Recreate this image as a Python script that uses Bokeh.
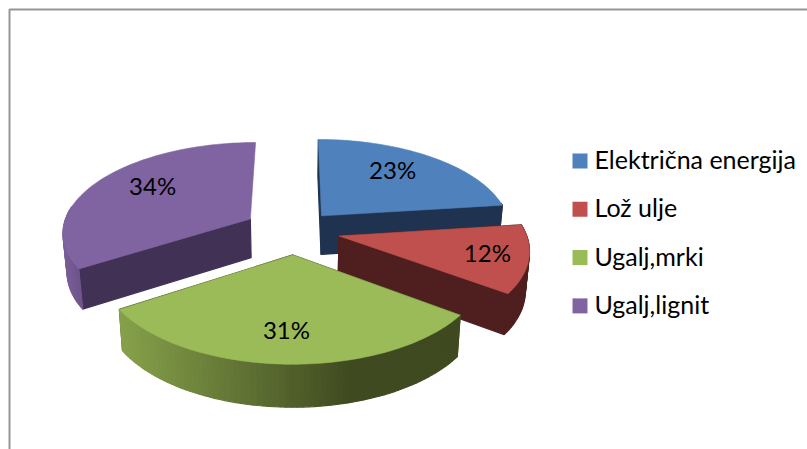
import math
from bokeh.plotting import figure
from bokeh.core.properties import value
from bokeh.embed import file_html
from bokeh.resources import INLINE

categories = ["Električna energija", "Lož ulje", "Ugalj,mrki", "Ugalj,lignit"]
shares = [23, 12, 31, 34]
percent_labels = ["23%", "12%", "31%", "34%"]

top_colors = ["#4f81bd", "#c0504d", "#9bbb59", "#8064a2"]
wall_colors = ["#1f3350", "#4f1f1f", "#3f4a20", "#413155"]
label_radius = [0.714, 0.77, 0.688, 0.693]
label_turn = [-5.0, -1.1, 0.6, 6.6]
explode = [0.22, 0.24, 0.26, 0.27]
radius = [1.0, 0.98, 0.965, 0.99]

CX, CY = 294.0, 230.0
AX, AY, PERSP = 190.0, 90.7, 0.138
DEPTH, SHRINK_X, GROW_Y = 39.0, 0.982, 1.03
FONT = "Lato"


def project(px, py):
    w = 1 + PERSP * py
    return CX + AX * px / w, CY - AY * py / w


def drop(sx, sy):
    return CX + (sx - CX) * SHRINK_X, CY + (sy - CY) * GROW_Y + DEPTH


def hex_rgb(c):
    return tuple(int(c[i:i + 2], 16) for i in (1, 3, 5))


def mix(a, b, t):
    t = max(0, min(1, t))
    ra, rb = hex_rgb(a), hex_rgb(b)
    return "#%02x%02x%02x" % tuple(round(ra[i] + (rb[i] - ra[i]) * t) for i in range(3))


def arc_color(idx, sx):
    if idx == 2:
        if sx < 350:
            return mix("#88a34b", "#3f4a20", (sx - 115) / 235)
        return "#3f4a20"
    if idx == 3:
        return mix("#7a5f98", "#644a80", (sx - 63) / 30)
    return wall_colors[idx]


p = figure(width=807, height=449, x_range=(0, 807), y_range=(449, 0),
           output_backend="svg", toolbar_location=None, min_border=0,
           outline_line_color=None, background_fill_color="white")
p.axis.visible = False
p.grid.visible = False

# chart frame
p.line([9, 9, 807], [449, 9, 9], line_color="#969696", line_width=2)

total = sum(shares)
start = 0.0
slices = []
for i, s in enumerate(shares):
    sweep = 360.0 * s / total
    slices.append((i, start, start + sweep))
    start += sweep

# back to front: blue, purple, red, green
for i in (0, 3, 1, 2):
    _, a0, a1 = slices[i]
    mid_deg = (a0 + a1) / 2
    mid = math.radians(mid_deg)
    ox, oy = explode[i] * math.sin(mid), explode[i] * math.cos(mid)
    n = max(8, int((a1 - a0) / 1.5))
    rim = []
    angles = []
    for k in range(n + 1):
        a = math.radians(a0 + (a1 - a0) * k / n)
        angles.append(a)
        rim.append((ox + radius[i] * math.sin(a), oy + radius[i] * math.cos(a)))
    apex = (ox, oy)

    edges = [(apex, rim[0], "flat")]
    # only the part of the rim that faces the viewer gets an outer wall
    edges += [(rim[k], rim[k + 1], "arc") for k in range(n)
              if math.cos((angles[k] + angles[k + 1]) / 2) < 0.15]
    if i != 3:
        edges.append((rim[-1], apex, "flat"))
    walls = []
    for a_pt, b_pt, kind in edges:
        ax_, ay_ = project(*a_pt)
        bx_, by_ = project(*b_pt)
        ax2, ay2 = drop(ax_, ay_)
        bx2, by2 = drop(bx_, by_)
        mean_y = (a_pt[1] + b_pt[1]) / 2
        col = wall_colors[i] if kind == "flat" else arc_color(i, (ax_ + bx_) / 2)
        walls.append((mean_y, [ax_, bx_, bx2, ax2], [ay_, by_, by2, ay2], col))
    walls.sort(key=lambda t: -t[0])
    p.patches([w[1] for w in walls], [w[2] for w in walls],
              fill_color=[w[3] for w in walls], line_color=[w[3] for w in walls],
              line_width=1.2)

    pts = [project(*apex)] + [project(*q) for q in rim]
    p.patch([q[0] for q in pts], [q[1] for q in pts], fill_color=top_colors[i],
            line_color=top_colors[i], line_width=0.6)

    la = math.radians(mid_deg + label_turn[i])
    lx, ly = project(ox + label_radius[i] * math.sin(la), oy + label_radius[i] * math.cos(la))
    p.text([lx], [ly], text=[percent_labels[i]], text_font=value(FONT), text_font_size="24px",
           text_color="black", text_align="center", text_baseline="middle")

# legend
LEG_X, LEG_Y0, LEG_STEP = 579.5, 160.5, 48.3
for i, name in enumerate(categories):
    y = LEG_Y0 + i * LEG_STEP
    p.scatter([LEG_X], [y], marker="square", size=15, fill_color=top_colors[i], line_color=None)
    p.text([594], [y - 2], text=[name], text_font=value(FONT), text_font_size="25px",
           text_color="black", text_align="left", text_baseline="middle")

open("out.html", "w").write(file_html(p, INLINE))
